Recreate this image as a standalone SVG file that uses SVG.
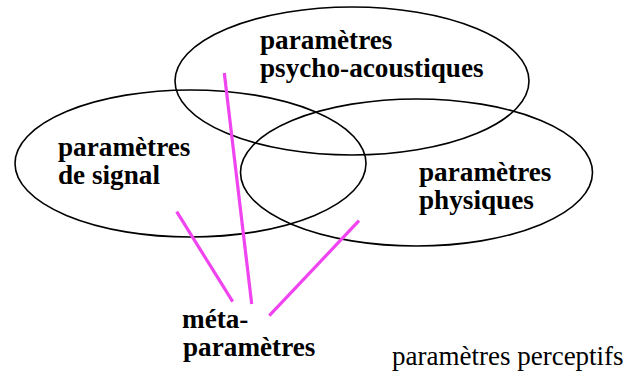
<svg xmlns="http://www.w3.org/2000/svg" width="629" height="371" viewBox="0 0 629 371">
<style>
.e{fill:none;stroke:#000;stroke-width:1.6}
.t{font-family:"Liberation Serif","Times New Roman",serif;font-weight:bold;font-size:27.2px;fill:#000}
.r{font-family:"Liberation Serif","Times New Roman",serif;font-size:27px;fill:#000}
.c{stroke:#f044f0;stroke-width:3.2;fill:none}
</style>
<rect width="629" height="371" fill="#fff"/>
<g id="psycho">
<ellipse class="e" cx="352" cy="81" rx="177" ry="74"/>
<text class="t" x="260" y="49">paramètres</text>
<text class="t" x="260" y="77">psycho-acoustiques</text>
</g>
<g id="signal">
<ellipse class="e" cx="190.5" cy="163.5" rx="175.5" ry="73.5"/>
<text class="t" x="58" y="156">paramètres</text>
<text class="t" x="58" y="184">de signal</text>
</g>
<g id="physique">
<ellipse class="e" cx="416.5" cy="172.5" rx="176" ry="73.5"/>
<text class="t" x="419" y="181">paramètres</text>
<text class="t" x="419" y="209">physiques</text>
</g>
<g id="meta">
<text class="t" x="182" y="328">méta-</text>
<text class="t" x="183" y="356">paramètres</text>
</g>
<g id="perceptifs">
<text class="r" x="392" y="365">paramètres perceptifs</text>
</g>
<g id="connectors">
<line class="c" x1="224.3" y1="73" x2="251.7" y2="304"/>
<line class="c" x1="176.7" y1="211.7" x2="232.7" y2="301.7"/>
<line class="c" x1="359" y1="220.7" x2="269.3" y2="315.7"/>
</g>
</svg>
